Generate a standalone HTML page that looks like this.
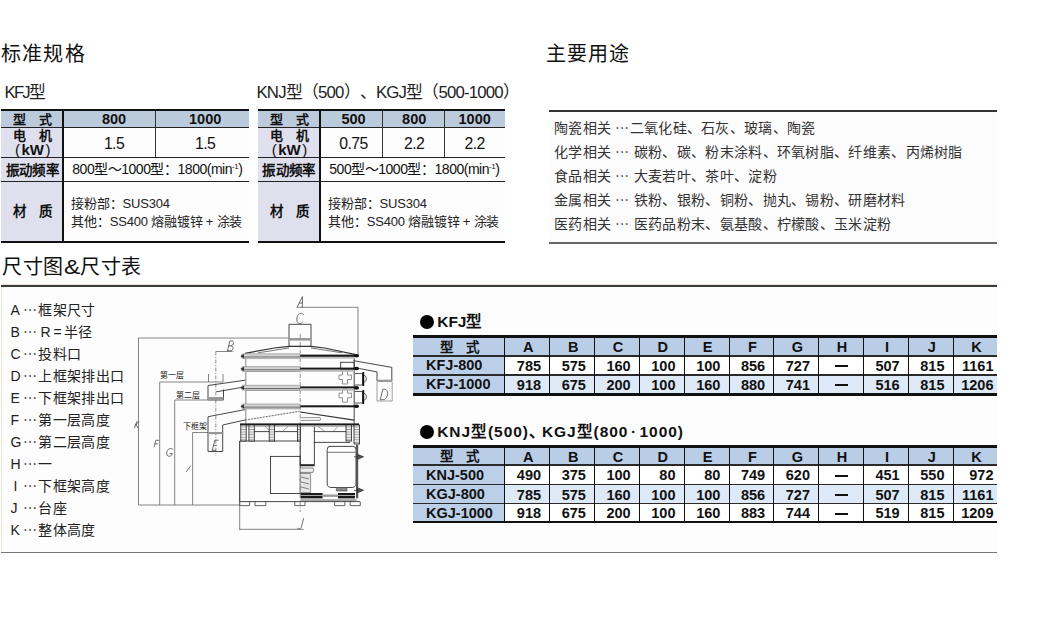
<!DOCTYPE html><html lang="zh-CN"><head><meta charset="utf-8"><style>
html,body{margin:0;padding:0;background:#fff;}
body{width:1037px;height:626px;position:relative;overflow:hidden;font-family:"Liberation Sans",sans-serif;color:#111;}
.r{position:absolute;}
.t{position:absolute;white-space:nowrap;}
svg{position:absolute;left:0;top:0;}
.dot{display:inline-block;width:14.5px;height:14.5px;border-radius:50%;background:#000;}
</style></head><body><div class="t" style="left:1px;top:43.6px;font-size:20px;line-height:20px;color:#111;letter-spacing:1.2px">标准规格</div>
<div class="t" style="left:546px;top:43.6px;font-size:20px;line-height:20px;color:#111;letter-spacing:0.9px">主要用途</div>
<div class="t" style="left:2px;top:257.3px;font-size:20px;line-height:20px;color:#111;letter-spacing:0.6px">尺寸图<span style="display:inline-block;transform:scaleX(1.22);transform-origin:0 0;margin-right:2.4px">&amp;</span>尺寸表</div>
<div class="t" style="left:4.5px;top:85px;font-size:16.8px;line-height:16.8px;color:#222;letter-spacing:-1.8px">KFJ型</div>
<div class="t" style="left:256.5px;top:85px;font-size:16.8px;line-height:16.8px;color:#222;letter-spacing:-0.83px;text-spacing-trim:space-all">KNJ型（500）、KGJ型（500-1000）</div>
<div class="r" style="left:1px;top:111px;width:248.00px;height:15.80px;background:#bccbdb;"></div>
<div class="r" style="left:1px;top:126.8px;width:62.30px;height:114.00px;background:#dfdfee;"></div>
<div class="r" style="left:63.3px;top:126.8px;width:185.70px;height:114.00px;background:#fdfdfd;"></div>
<div class="r" style="left:1px;top:109px;width:248.00px;height:2.00px;background:#111;"></div>
<div class="r" style="left:1px;top:126.8px;width:248.00px;height:1.20px;background:#222;"></div>
<div class="r" style="left:1px;top:156.9px;width:248.00px;height:1.20px;background:#222;"></div>
<div class="r" style="left:1px;top:180.9px;width:248.00px;height:1.20px;background:#222;"></div>
<div class="r" style="left:1px;top:240.8px;width:248.00px;height:2.20px;background:#111;"></div>
<div class="r" style="left:62.4px;top:111px;width:1.80px;height:129.80px;background:#111;"></div>
<div class="r" style="left:155.3px;top:111px;width:1.20px;height:45.90px;background:#333;"></div>
<div class="t" style="left:-117.35px;width:300px;top:112.50px;font-size:13px;line-height:13px;text-align:center;font-weight:bold;color:#111">型　式</div>
<div class="t" style="left:-36.00px;width:300px;top:111.75px;font-size:14.5px;line-height:14.5px;text-align:center;font-weight:bold;color:#111">800</div>
<div class="t" style="left:55.20px;width:300px;top:111.75px;font-size:14.5px;line-height:14.5px;text-align:center;font-weight:bold;color:#111">1000</div>
<div class="t" style="left:-117.35px;width:300px;top:129.10px;font-size:13px;line-height:13px;text-align:center;font-weight:bold;color:#111">电　机</div>
<div class="t" style="left:-117.25px;width:300px;top:142.30px;font-size:15px;line-height:15px;text-align:center;font-weight:bold;color:#111"><span style="font-weight:normal;margin-right:1.5px">(</span>kW<span style="font-weight:normal;margin-left:1.5px">)</span></div>
<div class="t" style="left:-36.00px;width:300px;top:135.50px;font-size:15.8px;line-height:15.8px;text-align:center;color:#111;letter-spacing:-0.6px">1.5</div>
<div class="t" style="left:55.20px;width:300px;top:135.50px;font-size:15.8px;line-height:15.8px;text-align:center;color:#111;letter-spacing:-0.6px">1.5</div>
<div class="t" style="left:-117.65px;width:300px;top:163.55px;font-size:13.5px;line-height:13.5px;text-align:center;font-weight:bold;color:#111;letter-spacing:0.4px">振动频率</div>
<div class="t" style="left:72.3px;top:162.4px;font-size:14px;line-height:14px;color:#111;letter-spacing:-0.48px">800型～1000型：1800(min<sup style="font-size:8px;vertical-align:5px;line-height:0">-1</sup>)</div>
<div class="t" style="left:-117.35px;width:300px;top:205.45px;font-size:13.5px;line-height:13.5px;text-align:center;font-weight:bold;color:#111">材　质</div>
<div class="t" style="left:71.3px;top:197.3px;font-size:13px;line-height:13px;color:#222;letter-spacing:-0.2px">接粉部：SUS304</div>
<div class="t" style="left:71.3px;top:215px;font-size:13px;line-height:13px;color:#222;letter-spacing:-0.2px">其他：SS400 熔融镀锌 + 涂装</div>
<div class="r" style="left:257.5px;top:111px;width:247.50px;height:15.80px;background:#bccbdb;"></div>
<div class="r" style="left:257.5px;top:126.8px;width:62.80px;height:114.00px;background:#dfdfee;"></div>
<div class="r" style="left:320.3px;top:126.8px;width:184.70px;height:114.00px;background:#fdfdfd;"></div>
<div class="r" style="left:257.5px;top:109px;width:247.50px;height:2.00px;background:#111;"></div>
<div class="r" style="left:257.5px;top:126.8px;width:247.50px;height:1.20px;background:#222;"></div>
<div class="r" style="left:257.5px;top:156.9px;width:247.50px;height:1.20px;background:#222;"></div>
<div class="r" style="left:257.5px;top:180.9px;width:247.50px;height:1.20px;background:#222;"></div>
<div class="r" style="left:257.5px;top:240.8px;width:247.50px;height:2.20px;background:#111;"></div>
<div class="r" style="left:319.40000000000003px;top:111px;width:1.80px;height:129.80px;background:#111;"></div>
<div class="r" style="left:382.2px;top:111px;width:1.20px;height:45.90px;background:#333;"></div>
<div class="r" style="left:443.59999999999997px;top:111px;width:1.20px;height:45.90px;background:#333;"></div>
<div class="t" style="left:139.40px;width:300px;top:112.50px;font-size:13px;line-height:13px;text-align:center;font-weight:bold;color:#111">型　式</div>
<div class="t" style="left:203.50px;width:300px;top:111.75px;font-size:14.5px;line-height:14.5px;text-align:center;font-weight:bold;color:#111">500</div>
<div class="t" style="left:264.20px;width:300px;top:111.75px;font-size:14.5px;line-height:14.5px;text-align:center;font-weight:bold;color:#111">800</div>
<div class="t" style="left:324.70px;width:300px;top:111.75px;font-size:14.5px;line-height:14.5px;text-align:center;font-weight:bold;color:#111">1000</div>
<div class="t" style="left:139.40px;width:300px;top:129.10px;font-size:13px;line-height:13px;text-align:center;font-weight:bold;color:#111">电　机</div>
<div class="t" style="left:139.50px;width:300px;top:142.30px;font-size:15px;line-height:15px;text-align:center;font-weight:bold;color:#111"><span style="font-weight:normal;margin-right:1.5px">(</span>kW<span style="font-weight:normal;margin-left:1.5px">)</span></div>
<div class="t" style="left:203.50px;width:300px;top:135.50px;font-size:15.8px;line-height:15.8px;text-align:center;color:#111;letter-spacing:-0.6px">0.75</div>
<div class="t" style="left:264.20px;width:300px;top:135.50px;font-size:15.8px;line-height:15.8px;text-align:center;color:#111;letter-spacing:-0.6px">2.2</div>
<div class="t" style="left:324.70px;width:300px;top:135.50px;font-size:15.8px;line-height:15.8px;text-align:center;color:#111;letter-spacing:-0.6px">2.2</div>
<div class="t" style="left:139.10px;width:300px;top:163.55px;font-size:13.5px;line-height:13.5px;text-align:center;font-weight:bold;color:#111;letter-spacing:0.4px">振动频率</div>
<div class="t" style="left:329.3px;top:162.4px;font-size:14px;line-height:14px;color:#111;letter-spacing:-0.48px">500型～1000型：1800(min<sup style="font-size:8px;vertical-align:5px;line-height:0">-1</sup>)</div>
<div class="t" style="left:139.40px;width:300px;top:205.45px;font-size:13.5px;line-height:13.5px;text-align:center;font-weight:bold;color:#111">材　质</div>
<div class="t" style="left:328.3px;top:197.3px;font-size:13px;line-height:13px;color:#222;letter-spacing:-0.2px">接粉部：SUS304</div>
<div class="t" style="left:328.3px;top:215px;font-size:13px;line-height:13px;color:#222;letter-spacing:-0.2px">其他：SS400 熔融镀锌 + 涂装</div>
<div class="r" style="left:549px;top:112px;width:448.00px;height:130.00px;background:#fdfcfd;"></div>
<div class="r" style="left:549px;top:110px;width:448.00px;height:2.00px;background:#333;"></div>
<div class="r" style="left:549px;top:242px;width:448.00px;height:1.50px;background:#666;"></div>
<div class="t" style="left:554px;top:121px;font-size:14px;line-height:14px;color:#333;letter-spacing:0.3px">陶瓷相关 ⋯二氧化硅、石灰、玻璃、陶瓷</div>
<div class="t" style="left:554px;top:145px;font-size:14px;line-height:14px;color:#333;letter-spacing:0.3px">化学相关 ⋯ 碳粉、碳、粉末涂料、环氧树脂、纤维素、丙烯树脂</div>
<div class="t" style="left:554px;top:169px;font-size:14px;line-height:14px;color:#333;letter-spacing:0.3px">食品相关 ⋯ 大麦若叶、茶叶、淀粉</div>
<div class="t" style="left:554px;top:193px;font-size:14px;line-height:14px;color:#333;letter-spacing:0.3px">金属相关 ⋯ 铁粉、银粉、铜粉、抛丸、锡粉、研磨材料</div>
<div class="t" style="left:554px;top:217px;font-size:14px;line-height:14px;color:#333;letter-spacing:0.3px">医药相关 ⋯ 医药品粉末、氨基酸、柠檬酸、玉米淀粉</div>
<div class="r" style="left:1px;top:287px;width:996.00px;height:265.00px;background:#fdfdfd;"></div>
<div class="r" style="left:1px;top:287px;width:0.80px;height:265.00px;background:#efe6da;"></div>
<div class="r" style="left:1px;top:284.2px;width:996.00px;height:1.00px;background:#f0e2d2;"></div>
<div class="r" style="left:1px;top:285.2px;width:996.00px;height:2.20px;background:#3c3a38;"></div>
<div class="r" style="left:1px;top:552px;width:996.00px;height:1.00px;background:#777;"></div>
<div class="t" style="left:10.4px;top:303.0px;font-size:14px;line-height:14px;color:#222">A</div>
<div class="t" style="left:22.5px;top:303.0px;font-size:14px;line-height:14px;color:#222">⋯</div>
<div class="t" style="left:38.3px;top:303.0px;font-size:14px;line-height:14px;color:#222;letter-spacing:0.35px">框架尺寸</div>
<div class="t" style="left:10.4px;top:325.0px;font-size:14px;line-height:14px;color:#222">B</div>
<div class="t" style="left:22.5px;top:325.0px;font-size:14px;line-height:14px;color:#222">⋯</div>
<div class="t" style="left:40.5px;top:325.0px;font-size:14px;line-height:14px;color:#222;letter-spacing:0.35px">R<span style="margin:0 1.5px 0 2.5px">=</span>半径</div>
<div class="t" style="left:10.4px;top:347.0px;font-size:14px;line-height:14px;color:#222">C</div>
<div class="t" style="left:22.5px;top:347.0px;font-size:14px;line-height:14px;color:#222">⋯</div>
<div class="t" style="left:38.3px;top:347.0px;font-size:14px;line-height:14px;color:#222;letter-spacing:0.35px">投料口</div>
<div class="t" style="left:10.4px;top:369.0px;font-size:14px;line-height:14px;color:#222">D</div>
<div class="t" style="left:22.5px;top:369.0px;font-size:14px;line-height:14px;color:#222">⋯</div>
<div class="t" style="left:38.3px;top:369.0px;font-size:14px;line-height:14px;color:#222;letter-spacing:0.35px">上框架排出口</div>
<div class="t" style="left:10.4px;top:391.0px;font-size:14px;line-height:14px;color:#222">E</div>
<div class="t" style="left:22.5px;top:391.0px;font-size:14px;line-height:14px;color:#222">⋯</div>
<div class="t" style="left:38.3px;top:391.0px;font-size:14px;line-height:14px;color:#222;letter-spacing:0.35px">下框架排出口</div>
<div class="t" style="left:10.4px;top:413.0px;font-size:14px;line-height:14px;color:#222">F</div>
<div class="t" style="left:22.5px;top:413.0px;font-size:14px;line-height:14px;color:#222">⋯</div>
<div class="t" style="left:38.3px;top:413.0px;font-size:14px;line-height:14px;color:#222;letter-spacing:0.35px">第一层高度</div>
<div class="t" style="left:10.4px;top:435.0px;font-size:14px;line-height:14px;color:#222">G</div>
<div class="t" style="left:22.5px;top:435.0px;font-size:14px;line-height:14px;color:#222">⋯</div>
<div class="t" style="left:38.3px;top:435.0px;font-size:14px;line-height:14px;color:#222;letter-spacing:0.35px">第二层高度</div>
<div class="t" style="left:10.4px;top:457.0px;font-size:14px;line-height:14px;color:#222">H</div>
<div class="t" style="left:22.5px;top:457.0px;font-size:14px;line-height:14px;color:#222">⋯</div>
<div class="t" style="left:38.3px;top:457.0px;font-size:14px;line-height:14px;color:#222;letter-spacing:0.35px">一</div>
<div class="t" style="left:13.6px;top:479.0px;font-size:14px;line-height:14px;color:#222">I</div>
<div class="t" style="left:22.5px;top:479.0px;font-size:14px;line-height:14px;color:#222">⋯</div>
<div class="t" style="left:38.3px;top:479.0px;font-size:14px;line-height:14px;color:#222;letter-spacing:0.35px">下框架高度</div>
<div class="t" style="left:10.4px;top:501.0px;font-size:14px;line-height:14px;color:#222">J</div>
<div class="t" style="left:22.5px;top:501.0px;font-size:14px;line-height:14px;color:#222">⋯</div>
<div class="t" style="left:38.3px;top:501.0px;font-size:14px;line-height:14px;color:#222;letter-spacing:0.35px">台座</div>
<div class="t" style="left:10.4px;top:523.0px;font-size:14px;line-height:14px;color:#222">K</div>
<div class="t" style="left:22.5px;top:523.0px;font-size:14px;line-height:14px;color:#222">⋯</div>
<div class="t" style="left:38.3px;top:523.0px;font-size:14px;line-height:14px;color:#222;letter-spacing:0.35px">整体高度</div>
<div class="t" style="left:419.7px;top:314px;font-size:15.5px;line-height:15px;font-weight:bold;color:#111;letter-spacing:0px"><span class="dot" style="vertical-align:-2px;margin-right:3px"></span>KFJ型</div>
<div class="r" style="left:413px;top:335px;width:584.00px;height:21.50px;background:#b9cde6;"></div>
<div class="r" style="left:413px;top:355px;width:91.40px;height:20.50px;background:#bccfe8;"></div>
<div class="r" style="left:504.4px;top:355px;width:492.60px;height:20.50px;background:#ffffff;"></div>
<div class="r" style="left:413px;top:374px;width:91.40px;height:21.50px;background:#bccfe8;"></div>
<div class="r" style="left:504.4px;top:374px;width:492.60px;height:21.50px;background:#dde9f6;"></div>
<div class="r" style="left:413px;top:335px;width:584.00px;height:3.00px;background:#111;"></div>
<div class="r" style="left:413px;top:355px;width:584.00px;height:1.50px;background:#2a2a2a;"></div>
<div class="r" style="left:413px;top:374px;width:584.00px;height:1.50px;background:#2a2a2a;"></div>
<div class="r" style="left:413px;top:392.5px;width:584.00px;height:3.00px;background:#111;"></div>
<div class="r" style="left:504px;top:338px;width:1.25px;height:54.50px;background:#111;"></div>
<div class="r" style="left:549px;top:338px;width:1.25px;height:54.50px;background:#111;"></div>
<div class="r" style="left:594px;top:338px;width:1.25px;height:54.50px;background:#111;"></div>
<div class="r" style="left:639px;top:338px;width:1.25px;height:54.50px;background:#111;"></div>
<div class="r" style="left:684px;top:338px;width:1.25px;height:54.50px;background:#111;"></div>
<div class="r" style="left:729px;top:338px;width:1.25px;height:54.50px;background:#111;"></div>
<div class="r" style="left:773px;top:338px;width:1.25px;height:54.50px;background:#111;"></div>
<div class="r" style="left:818px;top:338px;width:1.25px;height:54.50px;background:#111;"></div>
<div class="r" style="left:863px;top:338px;width:1.25px;height:54.50px;background:#111;"></div>
<div class="r" style="left:908px;top:338px;width:1.25px;height:54.50px;background:#111;"></div>
<div class="r" style="left:953px;top:338px;width:1.25px;height:54.50px;background:#111;"></div>
<div class="t" style="left:309.70px;width:300px;top:340.75px;font-size:13.5px;line-height:13.5px;text-align:center;font-weight:bold;color:#111">型　式</div>
<div class="t" style="left:378.31px;width:300px;top:340.25px;font-size:14.5px;line-height:14.5px;text-align:center;font-weight:bold;color:#111">A</div>
<div class="t" style="left:423.14px;width:300px;top:340.25px;font-size:14.5px;line-height:14.5px;text-align:center;font-weight:bold;color:#111">B</div>
<div class="t" style="left:467.97px;width:300px;top:340.25px;font-size:14.5px;line-height:14.5px;text-align:center;font-weight:bold;color:#111">C</div>
<div class="t" style="left:512.80px;width:300px;top:340.25px;font-size:14.5px;line-height:14.5px;text-align:center;font-weight:bold;color:#111">D</div>
<div class="t" style="left:557.62px;width:300px;top:340.25px;font-size:14.5px;line-height:14.5px;text-align:center;font-weight:bold;color:#111">E</div>
<div class="t" style="left:602.45px;width:300px;top:340.25px;font-size:14.5px;line-height:14.5px;text-align:center;font-weight:bold;color:#111">F</div>
<div class="t" style="left:647.28px;width:300px;top:340.25px;font-size:14.5px;line-height:14.5px;text-align:center;font-weight:bold;color:#111">G</div>
<div class="t" style="left:692.10px;width:300px;top:340.25px;font-size:14.5px;line-height:14.5px;text-align:center;font-weight:bold;color:#111">H</div>
<div class="t" style="left:736.93px;width:300px;top:340.25px;font-size:14.5px;line-height:14.5px;text-align:center;font-weight:bold;color:#111">I</div>
<div class="t" style="left:781.76px;width:300px;top:340.25px;font-size:14.5px;line-height:14.5px;text-align:center;font-weight:bold;color:#111">J</div>
<div class="t" style="left:826.59px;width:300px;top:340.25px;font-size:14.5px;line-height:14.5px;text-align:center;font-weight:bold;color:#111">K</div>
<div class="t" style="left:426px;top:358.25px;font-size:14.5px;line-height:15px;font-weight:bold;color:#111">KFJ-800</div>
<div class="t" style="left:504.40px;width:36.63px;top:358.95px;font-size:14.5px;line-height:15px;text-align:right;font-weight:bold;color:#111">785</div>
<div class="t" style="left:549.23px;width:36.63px;top:358.95px;font-size:14.5px;line-height:15px;text-align:right;font-weight:bold;color:#111">575</div>
<div class="t" style="left:594.05px;width:36.63px;top:358.95px;font-size:14.5px;line-height:15px;text-align:right;font-weight:bold;color:#111">160</div>
<div class="t" style="left:638.88px;width:36.63px;top:358.95px;font-size:14.5px;line-height:15px;text-align:right;font-weight:bold;color:#111">100</div>
<div class="t" style="left:683.71px;width:36.63px;top:358.95px;font-size:14.5px;line-height:15px;text-align:right;font-weight:bold;color:#111">100</div>
<div class="t" style="left:728.54px;width:36.63px;top:358.95px;font-size:14.5px;line-height:15px;text-align:right;font-weight:bold;color:#111">856</div>
<div class="t" style="left:773.36px;width:36.63px;top:358.95px;font-size:14.5px;line-height:15px;text-align:right;font-weight:bold;color:#111">727</div>
<div class="r" style="left:835.1045454545455px;top:365.45px;width:13.00px;height:2.00px;background:#111;"></div>
<div class="t" style="left:863.02px;width:36.63px;top:358.95px;font-size:14.5px;line-height:15px;text-align:right;font-weight:bold;color:#111">507</div>
<div class="t" style="left:907.85px;width:36.63px;top:358.95px;font-size:14.5px;line-height:15px;text-align:right;font-weight:bold;color:#111">815</div>
<div class="t" style="left:952.67px;width:40.83px;top:358.95px;font-size:14.5px;line-height:15px;text-align:right;font-weight:bold;color:#111">1161</div>
<div class="t" style="left:426px;top:377.0px;font-size:14.5px;line-height:15px;font-weight:bold;color:#111">KFJ-1000</div>
<div class="t" style="left:504.40px;width:36.63px;top:377.70px;font-size:14.5px;line-height:15px;text-align:right;font-weight:bold;color:#111">918</div>
<div class="t" style="left:549.23px;width:36.63px;top:377.70px;font-size:14.5px;line-height:15px;text-align:right;font-weight:bold;color:#111">675</div>
<div class="t" style="left:594.05px;width:36.63px;top:377.70px;font-size:14.5px;line-height:15px;text-align:right;font-weight:bold;color:#111">200</div>
<div class="t" style="left:638.88px;width:36.63px;top:377.70px;font-size:14.5px;line-height:15px;text-align:right;font-weight:bold;color:#111">100</div>
<div class="t" style="left:683.71px;width:36.63px;top:377.70px;font-size:14.5px;line-height:15px;text-align:right;font-weight:bold;color:#111">160</div>
<div class="t" style="left:728.54px;width:36.63px;top:377.70px;font-size:14.5px;line-height:15px;text-align:right;font-weight:bold;color:#111">880</div>
<div class="t" style="left:773.36px;width:36.63px;top:377.70px;font-size:14.5px;line-height:15px;text-align:right;font-weight:bold;color:#111">741</div>
<div class="r" style="left:835.1045454545455px;top:384.2px;width:13.00px;height:2.00px;background:#111;"></div>
<div class="t" style="left:863.02px;width:36.63px;top:377.70px;font-size:14.5px;line-height:15px;text-align:right;font-weight:bold;color:#111">516</div>
<div class="t" style="left:907.85px;width:36.63px;top:377.70px;font-size:14.5px;line-height:15px;text-align:right;font-weight:bold;color:#111">815</div>
<div class="t" style="left:952.67px;width:40.83px;top:377.70px;font-size:14.5px;line-height:15px;text-align:right;font-weight:bold;color:#111">1206</div>
<div class="t" style="left:419.7px;top:424px;font-size:15.5px;line-height:15px;font-weight:bold;color:#111;letter-spacing:0.95px"><span class="dot" style="vertical-align:-2px;margin-right:3px"></span>KNJ型(500)<span style="margin-right:-4px">、</span>KGJ型(800<span style="margin:0 2.5px">·</span>1000)</div>
<div class="r" style="left:413px;top:445px;width:584.00px;height:20.90px;background:#b9cde6;"></div>
<div class="r" style="left:413px;top:464.3px;width:91.40px;height:20.80px;background:#bccfe8;"></div>
<div class="r" style="left:504.4px;top:464.3px;width:492.60px;height:20.80px;background:#ffffff;"></div>
<div class="r" style="left:413px;top:483.5px;width:91.40px;height:20.80px;background:#bccfe8;"></div>
<div class="r" style="left:504.4px;top:483.5px;width:492.60px;height:20.80px;background:#dde9f6;"></div>
<div class="r" style="left:413px;top:502.7px;width:91.40px;height:20.70px;background:#bccfe8;"></div>
<div class="r" style="left:504.4px;top:502.7px;width:492.60px;height:20.70px;background:#ffffff;"></div>
<div class="r" style="left:413px;top:445px;width:584.00px;height:2.60px;background:#111;"></div>
<div class="r" style="left:413px;top:464.3px;width:584.00px;height:1.60px;background:#2a2a2a;"></div>
<div class="r" style="left:413px;top:483.5px;width:584.00px;height:1.60px;background:#2a2a2a;"></div>
<div class="r" style="left:413px;top:502.7px;width:584.00px;height:1.60px;background:#2a2a2a;"></div>
<div class="r" style="left:413px;top:520.7px;width:584.00px;height:2.70px;background:#111;"></div>
<div class="r" style="left:504px;top:447.6px;width:1.25px;height:73.10px;background:#111;"></div>
<div class="r" style="left:549px;top:447.6px;width:1.25px;height:73.10px;background:#111;"></div>
<div class="r" style="left:594px;top:447.6px;width:1.25px;height:73.10px;background:#111;"></div>
<div class="r" style="left:639px;top:447.6px;width:1.25px;height:73.10px;background:#111;"></div>
<div class="r" style="left:684px;top:447.6px;width:1.25px;height:73.10px;background:#111;"></div>
<div class="r" style="left:729px;top:447.6px;width:1.25px;height:73.10px;background:#111;"></div>
<div class="r" style="left:773px;top:447.6px;width:1.25px;height:73.10px;background:#111;"></div>
<div class="r" style="left:818px;top:447.6px;width:1.25px;height:73.10px;background:#111;"></div>
<div class="r" style="left:863px;top:447.6px;width:1.25px;height:73.10px;background:#111;"></div>
<div class="r" style="left:908px;top:447.6px;width:1.25px;height:73.10px;background:#111;"></div>
<div class="r" style="left:953px;top:447.6px;width:1.25px;height:73.10px;background:#111;"></div>
<div class="t" style="left:309.70px;width:300px;top:450.20px;font-size:13.5px;line-height:13.5px;text-align:center;font-weight:bold;color:#111">型　式</div>
<div class="t" style="left:378.31px;width:300px;top:449.70px;font-size:14.5px;line-height:14.5px;text-align:center;font-weight:bold;color:#111">A</div>
<div class="t" style="left:423.14px;width:300px;top:449.70px;font-size:14.5px;line-height:14.5px;text-align:center;font-weight:bold;color:#111">B</div>
<div class="t" style="left:467.97px;width:300px;top:449.70px;font-size:14.5px;line-height:14.5px;text-align:center;font-weight:bold;color:#111">C</div>
<div class="t" style="left:512.80px;width:300px;top:449.70px;font-size:14.5px;line-height:14.5px;text-align:center;font-weight:bold;color:#111">D</div>
<div class="t" style="left:557.62px;width:300px;top:449.70px;font-size:14.5px;line-height:14.5px;text-align:center;font-weight:bold;color:#111">E</div>
<div class="t" style="left:602.45px;width:300px;top:449.70px;font-size:14.5px;line-height:14.5px;text-align:center;font-weight:bold;color:#111">F</div>
<div class="t" style="left:647.28px;width:300px;top:449.70px;font-size:14.5px;line-height:14.5px;text-align:center;font-weight:bold;color:#111">G</div>
<div class="t" style="left:692.10px;width:300px;top:449.70px;font-size:14.5px;line-height:14.5px;text-align:center;font-weight:bold;color:#111">H</div>
<div class="t" style="left:736.93px;width:300px;top:449.70px;font-size:14.5px;line-height:14.5px;text-align:center;font-weight:bold;color:#111">I</div>
<div class="t" style="left:781.76px;width:300px;top:449.70px;font-size:14.5px;line-height:14.5px;text-align:center;font-weight:bold;color:#111">J</div>
<div class="t" style="left:826.59px;width:300px;top:449.70px;font-size:14.5px;line-height:14.5px;text-align:center;font-weight:bold;color:#111">K</div>
<div class="t" style="left:426px;top:467.7px;font-size:14.5px;line-height:15px;font-weight:bold;color:#111">KNJ-500</div>
<div class="t" style="left:504.40px;width:36.63px;top:468.40px;font-size:14.5px;line-height:15px;text-align:right;font-weight:bold;color:#111">490</div>
<div class="t" style="left:549.23px;width:36.63px;top:468.40px;font-size:14.5px;line-height:15px;text-align:right;font-weight:bold;color:#111">375</div>
<div class="t" style="left:594.05px;width:36.63px;top:468.40px;font-size:14.5px;line-height:15px;text-align:right;font-weight:bold;color:#111">100</div>
<div class="t" style="left:638.88px;width:36.63px;top:468.40px;font-size:14.5px;line-height:15px;text-align:right;font-weight:bold;color:#111">80</div>
<div class="t" style="left:683.71px;width:36.63px;top:468.40px;font-size:14.5px;line-height:15px;text-align:right;font-weight:bold;color:#111">80</div>
<div class="t" style="left:728.54px;width:36.63px;top:468.40px;font-size:14.5px;line-height:15px;text-align:right;font-weight:bold;color:#111">749</div>
<div class="t" style="left:773.36px;width:36.63px;top:468.40px;font-size:14.5px;line-height:15px;text-align:right;font-weight:bold;color:#111">620</div>
<div class="r" style="left:835.1045454545455px;top:474.9px;width:13.00px;height:2.00px;background:#111;"></div>
<div class="t" style="left:863.02px;width:36.63px;top:468.40px;font-size:14.5px;line-height:15px;text-align:right;font-weight:bold;color:#111">451</div>
<div class="t" style="left:907.85px;width:36.63px;top:468.40px;font-size:14.5px;line-height:15px;text-align:right;font-weight:bold;color:#111">550</div>
<div class="t" style="left:952.67px;width:40.83px;top:468.40px;font-size:14.5px;line-height:15px;text-align:right;font-weight:bold;color:#111">972</div>
<div class="t" style="left:426px;top:486.9px;font-size:14.5px;line-height:15px;font-weight:bold;color:#111">KGJ-800</div>
<div class="t" style="left:504.40px;width:36.63px;top:487.60px;font-size:14.5px;line-height:15px;text-align:right;font-weight:bold;color:#111">785</div>
<div class="t" style="left:549.23px;width:36.63px;top:487.60px;font-size:14.5px;line-height:15px;text-align:right;font-weight:bold;color:#111">575</div>
<div class="t" style="left:594.05px;width:36.63px;top:487.60px;font-size:14.5px;line-height:15px;text-align:right;font-weight:bold;color:#111">160</div>
<div class="t" style="left:638.88px;width:36.63px;top:487.60px;font-size:14.5px;line-height:15px;text-align:right;font-weight:bold;color:#111">100</div>
<div class="t" style="left:683.71px;width:36.63px;top:487.60px;font-size:14.5px;line-height:15px;text-align:right;font-weight:bold;color:#111">100</div>
<div class="t" style="left:728.54px;width:36.63px;top:487.60px;font-size:14.5px;line-height:15px;text-align:right;font-weight:bold;color:#111">856</div>
<div class="t" style="left:773.36px;width:36.63px;top:487.60px;font-size:14.5px;line-height:15px;text-align:right;font-weight:bold;color:#111">727</div>
<div class="r" style="left:835.1045454545455px;top:494.09999999999997px;width:13.00px;height:2.00px;background:#111;"></div>
<div class="t" style="left:863.02px;width:36.63px;top:487.60px;font-size:14.5px;line-height:15px;text-align:right;font-weight:bold;color:#111">507</div>
<div class="t" style="left:907.85px;width:36.63px;top:487.60px;font-size:14.5px;line-height:15px;text-align:right;font-weight:bold;color:#111">815</div>
<div class="t" style="left:952.67px;width:40.83px;top:487.60px;font-size:14.5px;line-height:15px;text-align:right;font-weight:bold;color:#111">1161</div>
<div class="t" style="left:426px;top:505.5px;font-size:14.5px;line-height:15px;font-weight:bold;color:#111">KGJ-1000</div>
<div class="t" style="left:504.40px;width:36.63px;top:506.20px;font-size:14.5px;line-height:15px;text-align:right;font-weight:bold;color:#111">918</div>
<div class="t" style="left:549.23px;width:36.63px;top:506.20px;font-size:14.5px;line-height:15px;text-align:right;font-weight:bold;color:#111">675</div>
<div class="t" style="left:594.05px;width:36.63px;top:506.20px;font-size:14.5px;line-height:15px;text-align:right;font-weight:bold;color:#111">200</div>
<div class="t" style="left:638.88px;width:36.63px;top:506.20px;font-size:14.5px;line-height:15px;text-align:right;font-weight:bold;color:#111">100</div>
<div class="t" style="left:683.71px;width:36.63px;top:506.20px;font-size:14.5px;line-height:15px;text-align:right;font-weight:bold;color:#111">160</div>
<div class="t" style="left:728.54px;width:36.63px;top:506.20px;font-size:14.5px;line-height:15px;text-align:right;font-weight:bold;color:#111">883</div>
<div class="t" style="left:773.36px;width:36.63px;top:506.20px;font-size:14.5px;line-height:15px;text-align:right;font-weight:bold;color:#111">744</div>
<div class="r" style="left:835.1045454545455px;top:512.7px;width:13.00px;height:2.00px;background:#111;"></div>
<div class="t" style="left:863.02px;width:36.63px;top:506.20px;font-size:14.5px;line-height:15px;text-align:right;font-weight:bold;color:#111">519</div>
<div class="t" style="left:907.85px;width:36.63px;top:506.20px;font-size:14.5px;line-height:15px;text-align:right;font-weight:bold;color:#111">815</div>
<div class="t" style="left:952.67px;width:40.83px;top:506.20px;font-size:14.5px;line-height:15px;text-align:right;font-weight:bold;color:#111">1209</div>
<svg width="1037" height="626" viewBox="0 0 1037 626" style="font-family:'Liberation Sans',sans-serif">
<defs>
<pattern id="hatch" width="3" height="2.6" patternUnits="userSpaceOnUse"><rect width="3" height="2.6" fill="#eee"/><rect y="0" width="3" height="0.7" fill="#888"/></pattern>
</defs>
<g fill="none" stroke="#666" stroke-width="0.8">
<path d="M138.5 338 V505 M138.5 338 H288.3 M138.5 505 H239.7"/>
<path d="M159.7 382 V505 M159.7 382 H223"/>
<path d="M174.7 400 V505 M174.7 400 H208"/>
<path d="M192.6 432.5 V505 M192.6 432.5 H222.7"/>
<path d="M239.7 441 V530 M239.7 529.3 H303.6"/>
<path d="M297 307.3 H358 V355"/>
<path d="M215.8 351.5 H232.8"/>
<path d="M208.5 374 V382 M223 374 V382"/>
</g>
<g fill="none" stroke="#777" stroke-width="0.8" stroke-dasharray="4 1.5 1 1.5">
<path d="M300.2 334 V512"/>
<path d="M215.8 351.5 V456"/>
</g>
<!-- letters -->
<g fill="none" stroke="#555" stroke-width="0.85" stroke-linecap="round" stroke-linejoin="round">
<path d="M297 307.3 L302.5 296.5 L302.3 307.3 M299.5 303 H302.4"/>
<path d="M303.6 314.5 C302 312.5 298.5 312.8 297.3 316.5 C296.2 320 297 323.6 299.8 323.6 C301.2 323.6 302 322.8 302.5 322"/>
<path d="M227.5 350.7 L229.8 341 H232 C234.5 341 234 345.6 231 345.8 H228.7 M231 345.8 C234.2 346 233.5 350.7 230.5 350.7 H227.5"/>
<path d="M380.3 399.6 L382.8 389.2 H384.5 C389 389.2 388.5 399.6 383.5 399.6 Z"/>
<path d="M212.3 450.3 L214.8 440.2 H218.2 M213.5 445.3 H216.5 M212.3 450.3 H215.8"/>
<path d="M154.1 447 L155.8 440.3 H158.6 M155 443.8 H157.5"/>
<path d="M173 449.5 C171.5 447.8 168 448.2 167 451.5 C166 455 167.5 456.3 169.5 456.3 C171 456.3 172 455 172.3 453.5 H170"/>
<path d="M186.5 471.6 L190.5 466"/>
<path d="M134.5 428 L137 421.3 M135.3 425.5 L139 421.5 M136 424.2 L137.8 428"/>
<path d="M303.6 518.5 L301.2 527.5 C300.6 529.3 298.8 529.5 297.5 528.3"/>
</g>
<g fill="none" stroke="#333" stroke-width="0.9">
<!-- inlet -->
<path d="M289 346 V324.3 H311 V346"/>
<!-- hood -->
<path d="M245 353.3 L274.5 348 L289 346.3 H311 L324.5 348 L357 354.8" stroke-width="1.2" stroke="#333"/>
<path d="M258 352.8 L289 348 M311 348 L342 352.8" stroke="#666"/>
<!-- body walls -->
<path d="M245.8 358 V424" stroke="#888" stroke-width="1"/><path d="M354.2 358 V424"/>
<path d="M245.5 371.5 H300 M245.5 390.5 H300 M245.5 408.6 H300" stroke="#888" stroke-width="0.7"/>
<!-- upper-left outlet -->
<path d="M245.2 380.2 L208 385.5 V400 H223.5 V389.5 M245.2 386.8 L216.2 391.8"/>
<!-- lower-left outlet E -->
<path d="M245 409.6 L208 416.7 V451.5 H222.7 V425 L245 420"/>
<!-- right outlet D -->
<path d="M353.6 360.7 L391.8 367.4 V381 M377 381 V371.9 L359.2 368.5"/>
<rect x="340.7" y="362.3" width="13.5" height="6.7"/>
<path d="M377 382 V401 H392.2 V382" stroke="#777" stroke-width="0.7"/><rect x="377" y="379.7" width="15.2" height="2.3" fill="#999" stroke="none"/>
<!-- lower frame slopes -->
<path d="M300.2 412 L354.2 420.1" stroke-width="1.1"/>
<path d="M244.9 420.1 L299.5 411.3" stroke-dasharray="2 1" stroke="#555"/>
<!-- base -->
<path d="M239.7 441 H300.2 M313.7 442.4 H350.2 M239.7 441 V501.6 H360"/>
<path d="M254 431.6 H297.5 M313.7 431.6 H348.8"/>
<rect x="270.5" y="456.4" width="29.7" height="37.1"/>
<path d="M300.2 424.2 V465.8 H314.4 V424.2"/>

<path d="M330 446.4 H353 Q356 446.4 356 449.5 V484 Q356 487.5 351 487.5 H332 Q327.2 487.5 327.2 484 V449.5 Q327.2 446.4 330 446.4 Z"/>

<!-- feet -->
<path d="M239.7 501.6 V505.6 H249.6 V501.6 M255 501.6 V505.6 H265.8 V501.6 M294.8 501.6 V505.6 H305 V501.6 M334.6 501.6 V505.6 H344.8 V501.6 M350.2 501.6 V505.6 H360.3 V501.6" stroke="#555"/>
<!-- D clamps -->
<path d="M342.5 371 H347.5 V375 H351.5 V379.5 H347.5 V384 H342.5 V379.5 H339 V375 H342.5 Z M342.5 389.2 H347.5 V393.2 H351.5 V397.7 H347.5 V402.2 H342.5 V397.7 H339 V393.2 H342.5 Z" stroke="#777" stroke-width="0.8" fill="#fff"/>
<path d="M354.7 373.5 H362.5 V385 H354.7 M354.7 391.5 H362.5 V403 H354.7" stroke="#444"/>
<path d="M364.2 375 Q368.7 378.7 364.2 382.5 M364.2 393 Q368.7 396.7 364.2 400.5" stroke="#444"/>
<path d="M363.3 371.9 V385.9 M363.3 390 V404" stroke="#111" stroke-width="1.8"/>
</g>
<!-- flanges -->
<g>
<rect x="241.5" y="353.79999999999995" width="58.7" height="4.8" rx="1.5" fill="#d2d2d2" stroke="#888" stroke-width="0.6"/><rect x="243" y="356.5" width="57.2" height="0.9" fill="#666"/><path d="M244 354.0 L240.3 356.2 L244 358.4Z" fill="#333"/>
<rect x="300.2" y="354.6" width="58" height="2.2" fill="#1a1a1a"/>
<rect x="300.2" y="357" width="54" height="1.6" fill="#bbb"/>
<rect x="241.5" y="366.59999999999997" width="58.7" height="4.8" rx="1.5" fill="#d2d2d2" stroke="#888" stroke-width="0.6"/><rect x="243" y="369.3" width="57.2" height="0.9" fill="#666"/><path d="M244 366.8 L240.3 369.0 L244 371.2Z" fill="#333"/>
<rect x="300.2" y="367.6" width="58" height="2" fill="#1a1a1a"/>
<rect x="300.2" y="370" width="54" height="1.8" fill="#bbb"/>
<rect x="241.5" y="385.29999999999995" width="58.7" height="4.8" rx="1.5" fill="#d2d2d2" stroke="#888" stroke-width="0.6"/><rect x="243" y="388.0" width="57.2" height="0.9" fill="#666"/><path d="M244 385.5 L240.3 387.7 L244 389.9Z" fill="#333"/>
<rect x="300.2" y="386.4" width="58" height="2" fill="#1a1a1a"/>
<rect x="300.2" y="389" width="54" height="1.8" fill="#bbb"/>
<rect x="241.5" y="404.0" width="58.7" height="4.8" rx="1.5" fill="#d2d2d2" stroke="#888" stroke-width="0.6"/><rect x="243" y="406.70000000000005" width="57.2" height="0.9" fill="#666"/><path d="M244 404.20000000000005 L240.3 406.40000000000003 L244 408.6Z" fill="#333"/>
<rect x="300.2" y="405.3" width="58" height="2" fill="#1a1a1a"/>
<rect x="289" y="338" width="22" height="2.6" fill="#999"/>
<rect x="208" y="397" width="15.5" height="3" fill="#999"/>
<rect x="208" y="432" width="14.7" height="2.2" fill="#999"/>
<g fill="#111"><ellipse cx="356.5" cy="355.7" rx="2.6" ry="1.8"/><ellipse cx="356.5" cy="368.5" rx="2.6" ry="1.8"/><ellipse cx="356.5" cy="388" rx="2.6" ry="1.8"/><ellipse cx="356.5" cy="406.2" rx="2.6" ry="1.8"/></g>
<!-- frame top plate -->
<rect x="246" y="425.2" width="108" height="1.6" fill="#aaa"/>
<path d="M300.5 417.5 H320 Q321.5 419 320 420.5 H300.5" fill="#eee" stroke="#666" stroke-width="0.6"/>
<path d="M265 426.5 L270 431 M288 426.5 L283 431 M318 426.5 L325 431.5 M338 426.5 L333 431.5" stroke="#666" stroke-width="0.6"/>
<path d="M327.5 452.3 H355.5" stroke="#555" stroke-width="0.8"/>
<rect x="240" y="423.4" width="119" height="1.8" fill="#1a1a1a"/>
<!-- springs -->
<g fill="url(#hatch)" stroke="#222" stroke-width="0.8">
<rect x="240.8" y="425" width="5.4" height="16"/>
<rect x="248.9" y="425" width="5.4" height="16"/>
<rect x="269.2" y="425" width="5.4" height="16"/>
<rect x="297.5" y="425" width="2.7" height="16"/>
<rect x="346" y="425" width="5.5" height="16"/>
<rect x="354" y="425" width="5.6" height="19"/>
</g>
<!-- belt -->
<rect x="300.6" y="493" width="22" height="5.4" fill="#1a1a1a"/>
<rect x="338" y="493" width="17" height="5.4" fill="#1a1a1a"/>
<rect x="300.6" y="495.2" width="54.4" height="0.8" fill="#ccc"/>
<rect x="322.6" y="494.5" width="15.4" height="2.4" fill="#999"/>
<rect x="300.6" y="499.3" width="56" height="1.6" fill="#999"/>
<rect x="356" y="444.5" width="2.2" height="53.7" fill="#555"/>
<rect x="300.2" y="464.2" width="13.8" height="1.8" fill="#222"/>
<path d="M300.6 468 H313 Q314.5 470.2 313 472.4 H300.6" fill="#eee" stroke="#555" stroke-width="0.7"/>
<path d="M300.6 473.5 H310.6 V492.6 H300.6" fill="#e4e4e4" stroke="#666" stroke-width="0.7"/>
<path d="M301 477 L309 479 M301 482 L309 484 M301 487 L309 489" stroke="#555" stroke-width="0.7"/>
<path d="M354 456.8 H357 M357.5 454.3 L363.5 456.8 L357.5 459.3 Z M354 490.3 H357 M357.5 487.8 L363.5 490.3 L357.5 492.8 Z" stroke="#333" stroke-width="0.8" fill="#555"/>
<path d="M336.4 487.5 H347 V491 H336.4 Z" fill="#888" stroke="#444" stroke-width="0.6"/>
</g>
<g fill="#222" font-size="8">
<text x="160" y="377.5">第一层</text>
<text x="175.8" y="397.5">第二层</text>
<text x="182.5" y="428.5">下框架</text>
</g>
</svg>
</body></html>
